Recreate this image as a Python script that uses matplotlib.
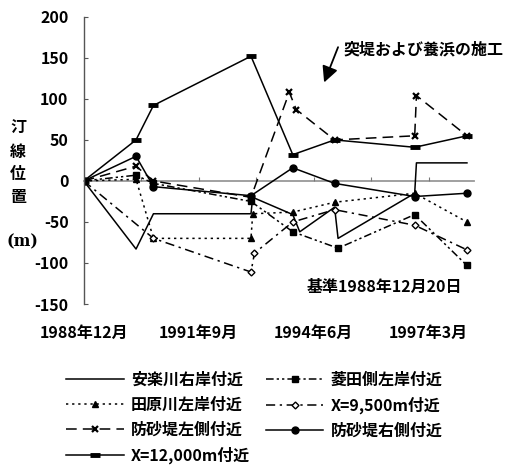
import matplotlib
matplotlib.use('Agg')
import matplotlib.pyplot as plt

plt.rcParams['font.family'] = ['Noto Sans CJK JP', 'DejaVu Sans']
plt.rcParams['font.weight'] = 'bold'

# x in months since 1988-12
x_ticks = [0, 33, 66, 99]
x_ticklabels = ['1988年12月', '1991年9月', '1994年6月', '1997年3月']
y_ticks = [-150, -100, -50, 0, 50, 100, 150, 200]

t_anraku = [0, 15, 20, 48, 48.5, 60, 62, 72, 73, 95, 95.5, 110]
v_anraku = [0, -83, -40, -40, -20, -41, -62, -32, -70, -15, 22, 22]

t_hishida = [0, 15, 20, 48, 60, 73, 95, 110]
v_hishida = [0, 7, -3, -25, -62, -82, -41, -103]

t_tawara = [0, 15, 20, 48, 48.5, 60, 72, 95, 110]
v_tawara = [0, 2, -70, -70, -40, -38, -26, -15, -50]

t_x9500 = [0, 20, 48, 49, 60, 72, 95, 110]
v_x9500 = [0, -70, -111, -88, -50, -35, -54, -84]

t_sabo_l = [0, 15, 20, 48, 59, 61, 72, 95, 95.5, 110]
v_sabo_l = [0, 18, 0, -20, 108, 87, 50, 55, 104, 55]

t_sabo_r = [0, 15, 20, 48, 60, 72, 95, 110]
v_sabo_r = [0, 30, -7, -18, 16, -3, -19, -15]

t_x12000 = [0, 15, 20, 48, 60, 72, 95, 110]
v_x12000 = [0, 50, 92, 152, 32, 50, 41, 55]

fs = 11.5
fig = plt.figure(figsize=(5.14, 4.67), dpi=100)
ax = fig.add_axes([0.163, 0.349, 0.759, 0.615])

lw = 1.1
h_anraku, = ax.plot(t_anraku, v_anraku, color='black', lw=lw, label='安楽川右岸付近')
h_hishida, = ax.plot(t_hishida, v_hishida, color='black', lw=lw,
                     linestyle=(0, (5, 2, 1.5, 2, 1.5, 2)), marker='s', ms=4,
                     label='菱田側左岸付近')
h_tawara, = ax.plot(t_tawara, v_tawara, color='black', lw=lw,
                    linestyle=(0, (1.5, 2.5)), marker='^', ms=5,
                    label='田原川左岸付近')
h_x9500, = ax.plot(t_x9500, v_x9500, color='black', lw=lw,
                   linestyle=(0, (6, 3, 1.5, 3)), marker='D', ms=3.5,
                   mfc='white', mec='black', mew=1, label='X=9,500m付近')
h_sabo_l, = ax.plot(t_sabo_l, v_sabo_l, color='black', lw=lw,
                    linestyle=(0, (7, 4)), marker='x', ms=5, mew=1.6,
                    label='防砂堤左側付近')
h_sabo_r, = ax.plot(t_sabo_r, v_sabo_r, color='black', lw=lw,
                    marker='o', ms=5, label='防砂堤右側付近')
h_x12000, = ax.plot(t_x12000, v_x12000, color='black', lw=lw,
                    marker='_', ms=7, mew=3.5, label='X=12,000m付近')

ax.set_xlim(0, 112)
ax.set_ylim(-150, 200)

# spines
for s in ['top', 'right']:
    ax.spines[s].set_visible(False)
ax.spines['left'].set_color('#555555')
ax.spines['left'].set_linewidth(1.0)
ax.spines['bottom'].set_position(('data', 0))
ax.spines['bottom'].set_color('#999999')
ax.spines['bottom'].set_linewidth(1.3)
ax.spines['bottom'].set_zorder(0)

ax.set_xticks([16.5 * i for i in range(1, 7)])
ax.tick_params(axis='x', direction='in', length=3, color='#777777', labelbottom=False)
ax.set_yticks(y_ticks)
ax.set_yticklabels([str(v) for v in y_ticks], fontsize=fs, fontweight='bold')
ax.tick_params(axis='y', direction='in', length=3, color='#555555', pad=11)

sec = ax.secondary_xaxis(0)
sec.set_xticks(x_ticks)
sec.set_xticklabels(x_ticklabels, fontsize=fs, fontweight='bold')
sec.tick_params(length=0, pad=15)
sec.spines['bottom'].set_visible(False)

# y label, stacked characters
for ch, yp in zip(['汀', '線', '位', '置'], [128, 152, 174, 197]):
    fig.text(18 / 514, 1 - yp / 467, ch, fontsize=fs, fontweight='bold',
             ha='center', va='center')
fig.text(22 / 514, 1 - 242 / 467, '(m)', fontsize=fs, fontweight='bold',
         ha='center', va='center', family=['DejaVu Serif'])

# annotation
ax.annotate('', xy=(69, 120), xytext=(73, 163),
            arrowprops=dict(arrowstyle='-|>', color='black', lw=1.3,
                            mutation_scale=24, shrinkA=0, shrinkB=0))
ax.text(74.5, 160, '突堤および養浜の施工', fontsize=fs, fontweight='bold',
        ha='left', va='center')
ax.text(64, -129, '基準1988年12月20日', fontsize=fs, fontweight='bold',
        ha='left', va='center')

handles = [h_anraku, h_tawara, h_sabo_l, h_x12000, h_hishida, h_x9500, h_sabo_r]
fig.legend(handles=handles, labels=[h.get_label() for h in handles],
           loc='upper left', bbox_to_anchor=(66 / 514, 1 - 372 / 467),
           ncol=2, frameon=False, fontsize=fs, handlelength=3.6,
           handletextpad=0.45, columnspacing=1.0, labelspacing=0.55,
           borderpad=0, borderaxespad=0,
           prop={'size': fs, 'weight': 'bold'})

fig.savefig('out.png', dpi=100)
